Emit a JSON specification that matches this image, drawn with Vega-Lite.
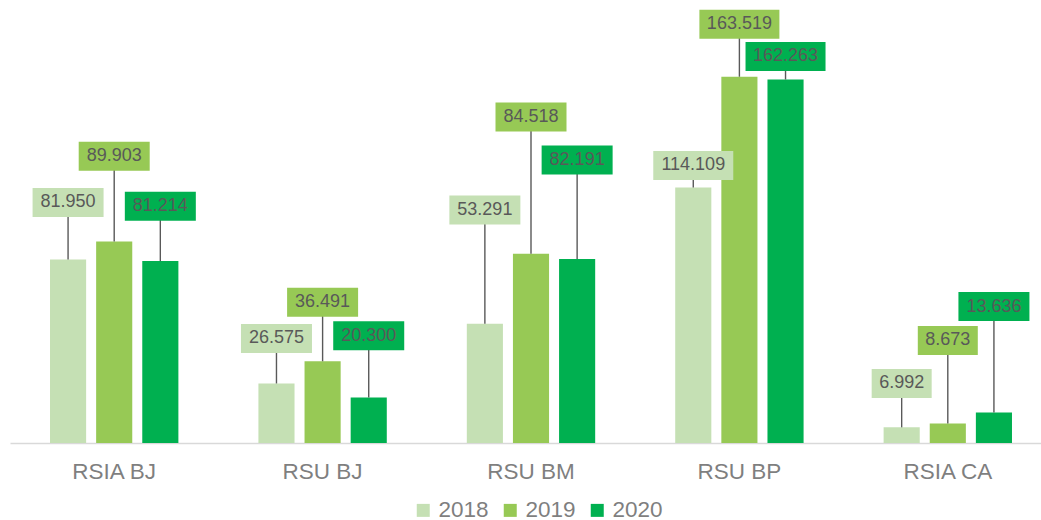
{
  "$schema": "https://vega.github.io/schema/vega-lite/v6.json",
  "autosize": "none",
  "width": 1042,
  "height": 443,
  "padding": {"left": 10, "top": 0, "right": 0, "bottom": 77},
  "background": "white",
  "config": {"view": {"stroke": null}, "font": "Liberation Sans"},
  "data": {"values": [
    {"cat": "RSIA BJ", "year": "2018", "value": 81.95, "label": "81.950", "ly": 107.4},
    {"cat": "RSIA BJ", "year": "2019", "value": 89.903, "label": "89.903", "ly": 128.0},
    {"cat": "RSIA BJ", "year": "2020", "value": 81.214, "label": "81.214", "ly": 105.7},
    {"cat": "RSU BJ", "year": "2018", "value": 26.575, "label": "26.575", "ly": 46.7},
    {"cat": "RSU BJ", "year": "2019", "value": 36.491, "label": "36.491", "ly": 62.8},
    {"cat": "RSU BJ", "year": "2020", "value": 20.3, "label": "20.300", "ly": 47.9},
    {"cat": "RSU BM", "year": "2018", "value": 53.291, "label": "53.291", "ly": 104.0},
    {"cat": "RSU BM", "year": "2019", "value": 84.518, "label": "84.518", "ly": 145.5},
    {"cat": "RSU BM", "year": "2020", "value": 82.191, "label": "82.191", "ly": 126.3},
    {"cat": "RSU BP", "year": "2018", "value": 114.109, "label": "114.109", "ly": 123.9},
    {"cat": "RSU BP", "year": "2019", "value": 163.519, "label": "163.519", "ly": 186.9},
    {"cat": "RSU BP", "year": "2020", "value": 162.263, "label": "162.263", "ly": 172.6},
    {"cat": "RSIA CA", "year": "2018", "value": 6.992, "label": "6.992", "ly": 26.6},
    {"cat": "RSIA CA", "year": "2019", "value": 8.673, "label": "8.673", "ly": 45.8},
    {"cat": "RSIA CA", "year": "2020", "value": 13.636, "label": "13.636", "ly": 60.9}
  ]},
  "encoding": {
    "x": {"field": "cat", "type": "nominal", "sort": null,
      "scale": {"paddingInner": 0.384, "paddingOuter": 0.192},
      "axis": {"title": null, "labelAngle": 0, "ticks": false, "domainColor": "#d9d9d9", "domainWidth": 1.5,
        "labelFontSize": 22.5, "labelColor": "#7f7f7f", "labelFont": "Liberation Sans", "labelPadding": 17, "grid": false}},
    "xOffset": {"field": "year", "type": "nominal", "scale": {"paddingInner": 0.217, "paddingOuter": 0}}
  },
  "layer": [
    {
      "mark": {"type": "bar"},
      "encoding": {
        "y": {"field": "value", "type": "quantitative", "scale": {"domain": [0, 197.77], "nice": false}, "axis": null},
        "color": {"field": "year", "type": "nominal",
          "scale": {"domain": ["2018", "2019", "2020"], "range": ["#C5E0B4", "#97C955", "#00B050"]},
          "legend": {"title": null, "orient": "none", "direction": "horizontal", "legendX": 402, "legendY": 499,
            "symbolType": "square", "symbolSize": 169, "symbolStrokeWidth": 0, "labelFontSize": 22.5,
            "labelColor": "#7f7f7f", "labelFont": "Liberation Sans", "labelOffset": 4, "columnPadding": 10, "padding": 0}}
      }
    },
    {
      "mark": {"type": "rule", "color": "#595959", "strokeWidth": 1.4},
      "encoding": {
        "y": {"field": "value", "type": "quantitative"},
        "y2": {"field": "ly"}
      }
    },
    {
      "transform": [{"filter": "length(datum.label) == 5"}],
      "mark": {"type": "point", "filled": true, "opacity": 1, "strokeWidth": 0,
        "shape": "M-1,-0.4833L1,-0.4833L1,0.4833L-1,0.4833Z", "size": 3600},
      "encoding": {
        "y": {"field": "ly", "type": "quantitative"},
        "fill": {"field": "year", "type": "nominal",
          "scale": {"domain": ["2018", "2019", "2020"], "range": ["#C5E0B4", "#97C955", "#00B050"]}, "legend": null}
      }
    },
    {
      "transform": [{"filter": "length(datum.label) == 6"}],
      "mark": {"type": "point", "filled": true, "opacity": 1, "strokeWidth": 0,
        "shape": "M-1,-0.4085L1,-0.4085L1,0.4085L-1,0.4085Z", "size": 5041},
      "encoding": {
        "y": {"field": "ly", "type": "quantitative"},
        "fill": {"field": "year", "type": "nominal",
          "scale": {"domain": ["2018", "2019", "2020"], "range": ["#C5E0B4", "#97C955", "#00B050"]}, "legend": null}
      }
    },
    {
      "transform": [{"filter": "length(datum.label) == 7"}],
      "mark": {"type": "point", "filled": true, "opacity": 1, "strokeWidth": 0,
        "shape": "M-1,-0.3625L1,-0.3625L1,0.3625L-1,0.3625Z", "size": 6400},
      "encoding": {
        "y": {"field": "ly", "type": "quantitative"},
        "fill": {"field": "year", "type": "nominal",
          "scale": {"domain": ["2018", "2019", "2020"], "range": ["#C5E0B4", "#97C955", "#00B050"]}, "legend": null}
      }
    },
    {
      "mark": {"type": "text", "fontSize": 18, "color": "#595959", "font": "Liberation Sans", "baseline": "middle", "align": "center"},
      "encoding": {
        "y": {"field": "ly", "type": "quantitative"},
        "text": {"field": "label"}
      }
    }
  ]
}
